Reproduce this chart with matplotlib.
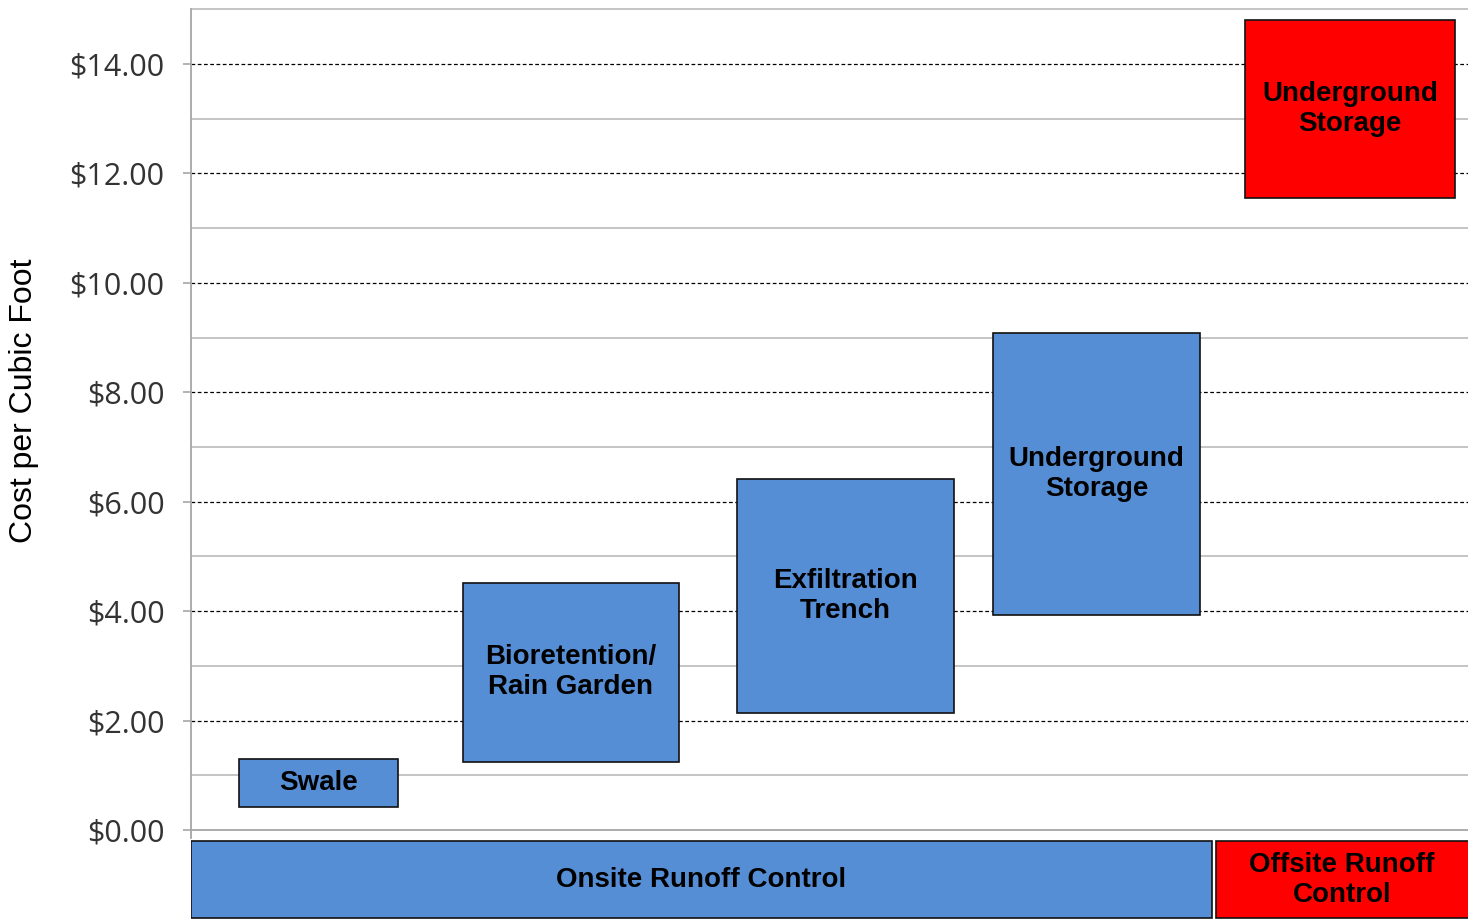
import numpy as np
import matplotlib.pyplot as plt
from matplotlib.ticker import MultipleLocator, FuncFormatter

# cost ranges ($ per cubic foot) for each practice
practices = ["Swale", "Bioretention/\nRain Garden", "Exfiltration\nTrench",
             "Underground\nStorage", "Underground\nStorage"]
cost_low = [0.42, 1.24, 2.14, 3.93, 11.55]
cost_high = [1.30, 4.52, 6.42, 9.09, 14.81]
group = ["onsite", "onsite", "onsite", "onsite", "offsite"]

groups = ["Onsite Runoff Control", "Offsite Runoff\nControl"]
group_keys = ["onsite", "offsite"]

colors = {"onsite": "#558ED5", "offsite": "#FF0000"}

# horizontal layout (left edge, width) in axis units
bar_left = [48, 272, 546, 802, 1054]
bar_width = [159, 216, 217, 207, 210]
group_left = [0, 1025]
group_width = [1021, 260]

fig = plt.figure(figsize=(14.68, 9.23), dpi=100)
ax = fig.add_axes([191 / 1468, 0, 1 - 191 / 1468, 0.9988])
ax.set_xlim(0, 1277)
ax.set_ylim(-1.70, 15.15)

# gridlines
for v in np.arange(1, 16, 2):
    ax.axhline(v, color="#BFBFBF", lw=1.3, zorder=1)
for v in np.arange(2, 15, 2):
    ax.axhline(v, color="black", lw=0.9, ls=(0, (3, 2)), zorder=1)
ax.axhline(0, color="#A6A6A6", lw=1.3, zorder=1)

# practice bars
for name, lo, hi, g, l, w in zip(practices, cost_low, cost_high, group, bar_left, bar_width):
    ax.bar(l, hi - lo, width=w, bottom=lo, align="edge", color=colors[g],
           edgecolor="#111111", linewidth=1.2, zorder=3)
    ax.text(l + w / 2, (lo + hi) / 2, name, ha="center", va="center",
            fontsize=20, fontweight="bold", family="Liberation Sans",
            linespacing=1.2, zorder=4)

# category bars below the axis
for label, key, l, w in zip(groups, group_keys, group_left, group_width):
    ax.bar(l, -1.41, width=w, bottom=-0.20, align="edge", color=colors[key],
           edgecolor="#111111", linewidth=1.2, zorder=3)
    cx = l + min(w, 1277 - l) / 2
    ax.text(cx, -0.905, label, ha="center", va="center", fontsize=20,
            fontweight="bold", family="Liberation Sans", linespacing=1.2, zorder=4)

for s in ["top", "right", "bottom"]:
    ax.spines[s].set_visible(False)
ax.spines["left"].set_color("#A6A6A6")
ax.spines["left"].set_linewidth(1.3)
ax.spines["left"].set_bounds(-0.15, 15)

ax.set_xticks([])
ax.set_yticks(np.arange(0, 15, 2))
ax.yaxis.set_major_formatter(FuncFormatter(lambda v, p: "${:.2f}".format(v)))
ax.tick_params(axis="y", which="major", length=6, width=1.2, color="#A6A6A6",
               labelsize=22, labelcolor="#333333", pad=13)
ax.tick_params(axis="y", which="minor", length=0)
for t in ax.get_yticklabels():
    t.set_family("Open Sans")

ax.set_ylabel("Cost per Cubic Foot", fontsize=23, family="Liberation Sans")
ax.yaxis.set_label_coords(-0.119, 0.567)

fig.savefig("out.png", dpi=100)
